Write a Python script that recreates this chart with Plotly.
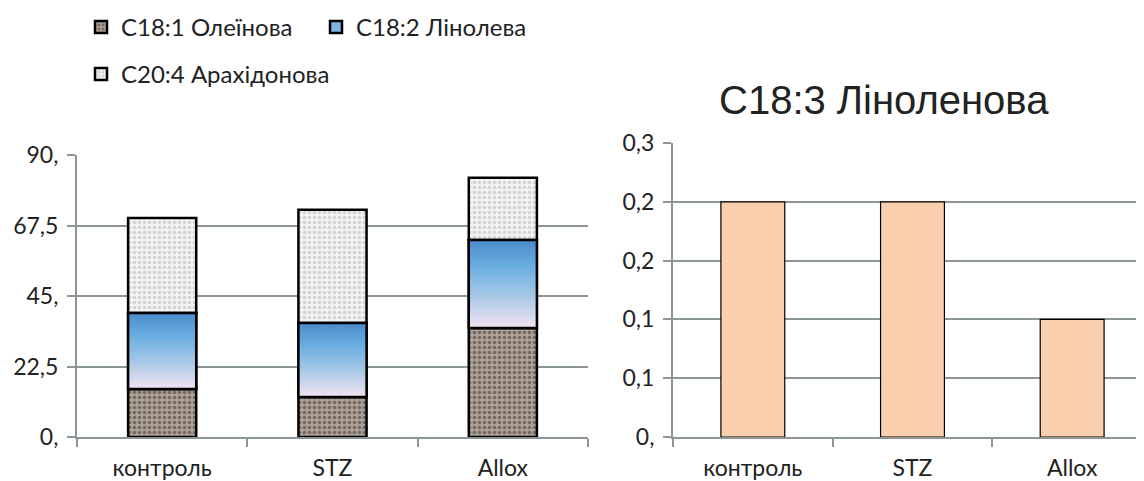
import plotly.graph_objects as go

categories = ["контроль", "STZ", "Allox"]
oleic = [15.3, 12.8, 34.8]
linoleic = [24.3, 23.6, 28.1]
arachidonic = [30.3, 36.1, 19.8]
linolenic = [0.24, 0.24, 0.12]

left_ticks = [0, 22.5, 45, 67.5, 90]
left_ticktext = ["0,", "22,5", "45,", "67,5", "90,"]
right_ticks = [0, 0.06, 0.12, 0.18, 0.24, 0.3]
right_ticktext = ["0,", "0,1", "0,1", "0,2", "0,2", "0,3"]

PAGE_MARGIN = 8  # default body margin of the html page
W = 1144 - PAGE_MARGIN
H = 481 - PAGE_MARGIN
FONT = "Lato"
GRID = "#8c9696"
BAR_W = 0.4
xpos = list(range(len(categories)))

fig = go.Figure()

# Oleic (granite texture)
fig.add_trace(go.Bar(
    x=xpos, y=oleic, width=BAR_W, name="C18:1 Олеїнова",
    marker=dict(color="#a39890", line=dict(color="black", width=2.5),
                pattern=dict(shape=".", fgcolor="#74685f", bgcolor="#ada298",
                             size=5, solidity=0.4, fillmode="replace")),
    xaxis="x", yaxis="y", legend="legend",
))
# Linoleic (blue gradient)
fig.add_trace(go.Bar(
    x=xpos, y=linoleic, base=oleic, width=BAR_W, name="C18:2 Лінолева",
    marker=dict(color="#7fb4e2", line=dict(color="black", width=2.5)),
    xaxis="x", yaxis="y", legend="legend",
))
# Arachidonic (light speckle)
tops = [o + l for o, l in zip(oleic, linoleic)]
fig.add_trace(go.Bar(
    x=xpos, y=arachidonic, base=tops, width=BAR_W, name="C20:4 Арахідонова",
    marker=dict(color="#efefed", line=dict(color="black", width=2.5),
                pattern=dict(shape=".", fgcolor="#d4d4d4", bgcolor="#f3f3f1",
                             size=5, solidity=0.4, fillmode="replace")),
    xaxis="x", yaxis="y", legend="legend2",
))
# gradient overlay for linoleic segments, derived from the data
for i, (b, v) in enumerate(zip(oleic, linoleic)):
    x0, x1 = i - BAR_W / 2, i + BAR_W / 2
    fig.add_trace(go.Scatter(
        x=[x0, x1, x1, x0, x0], y=[b, b, b + v, b + v, b],
        mode="lines", fill="toself",
        fillgradient=dict(type="vertical",
                          colorscale=[[0, "#f4e4f2"], [0.35, "#a9c9e6"],
                                      [0.7, "#69aee0"], [1, "#4b8ccd"]]),
        line=dict(color="black", width=2.5),
        showlegend=False, hoverinfo="skip", xaxis="x", yaxis="y",
    ))

# Linolenic
fig.add_trace(go.Bar(
    x=xpos, y=linolenic, width=BAR_W, showlegend=False,
    marker=dict(color="#facfae", line=dict(color="black", width=1.2)),
    xaxis="x2", yaxis="y2",
))

def px_x(p):
    return (p - PAGE_MARGIN) / W

def px_y(p):
    return 1 - (p - PAGE_MARGIN) / H

tickfont = dict(family=FONT, size=23, color="#222222")
legfont = dict(family=FONT, size=24, color="#222222")

fig.update_layout(
    width=W, height=H,
    margin=dict(l=0, r=0, t=0, b=0, autoexpand=False),
    paper_bgcolor="white", plot_bgcolor="white",
    barmode="overlay",
    font=dict(family=FONT, color="#222222"),
    xaxis=dict(domain=[px_x(77), px_x(588)], range=[-0.5, 2.5],
               tickvals=xpos, ticktext=categories, ticks="", showgrid=False,
               showline=True, linecolor=GRID, linewidth=2, zeroline=False,
               tickfont=tickfont, ticklabelstandoff=9,
               minor=dict(tickvals=[-0.5, 0.5, 1.5, 2.5], ticks="outside",
                          ticklen=8, tickwidth=2, tickcolor=GRID, showgrid=False),
               anchor="y", fixedrange=True, automargin=False),
    yaxis=dict(domain=[px_y(437), px_y(155)], range=[0, 90],
               tickvals=left_ticks, ticktext=left_ticktext,
               showgrid=True, gridcolor=GRID, gridwidth=2,
               showline=True, linecolor=GRID, linewidth=2, zeroline=False,
               ticks="outside", ticklen=8, tickwidth=2, tickcolor=GRID,
               tickfont=tickfont, ticklabelstandoff=4,
               anchor="x", fixedrange=True, automargin=False),
    xaxis2=dict(domain=[px_x(673), 1.0], range=[-0.5, 2.45],
                tickvals=xpos, ticktext=categories, ticks="", showgrid=False,
                showline=True, linecolor=GRID, linewidth=2, zeroline=False,
                tickfont=tickfont, ticklabelstandoff=9,
                minor=dict(tickvals=[-0.5, 0.5, 1.5], ticks="outside",
                           ticklen=8, tickwidth=2, tickcolor=GRID, showgrid=False),
                anchor="y2", fixedrange=True, automargin=False),
    yaxis2=dict(domain=[px_y(437), px_y(143)], range=[0, 0.3],
                tickvals=right_ticks, ticktext=right_ticktext,
                showgrid=True, gridcolor=GRID, gridwidth=2,
                showline=True, linecolor=GRID, linewidth=2, zeroline=False,
                ticks="outside", ticklen=8, tickwidth=2, tickcolor=GRID,
                tickfont=tickfont, ticklabelstandoff=4,
                anchor="x2", fixedrange=True, automargin=False),
    legend=dict(orientation="h", x=px_x(81), y=px_y(5), xanchor="left", yanchor="top",
                bgcolor="rgba(0,0,0,0)", font=legfont,
                entrywidth=190, itemclick=False, traceorder="normal"),
    legend2=dict(orientation="h", x=px_x(81), y=px_y(52), xanchor="left", yanchor="top",
                 bgcolor="rgba(0,0,0,0)", font=legfont, itemclick=False),
    annotations=[dict(text="C18:3 Ліноленова", x=px_x(884), y=px_y(100),
                      xref="paper", yref="paper", showarrow=False,
                      xanchor="center", yanchor="middle",
                      font=dict(family="Liberation Sans", size=40, color="#222222"))],
)

fig.write_html("out.html")
